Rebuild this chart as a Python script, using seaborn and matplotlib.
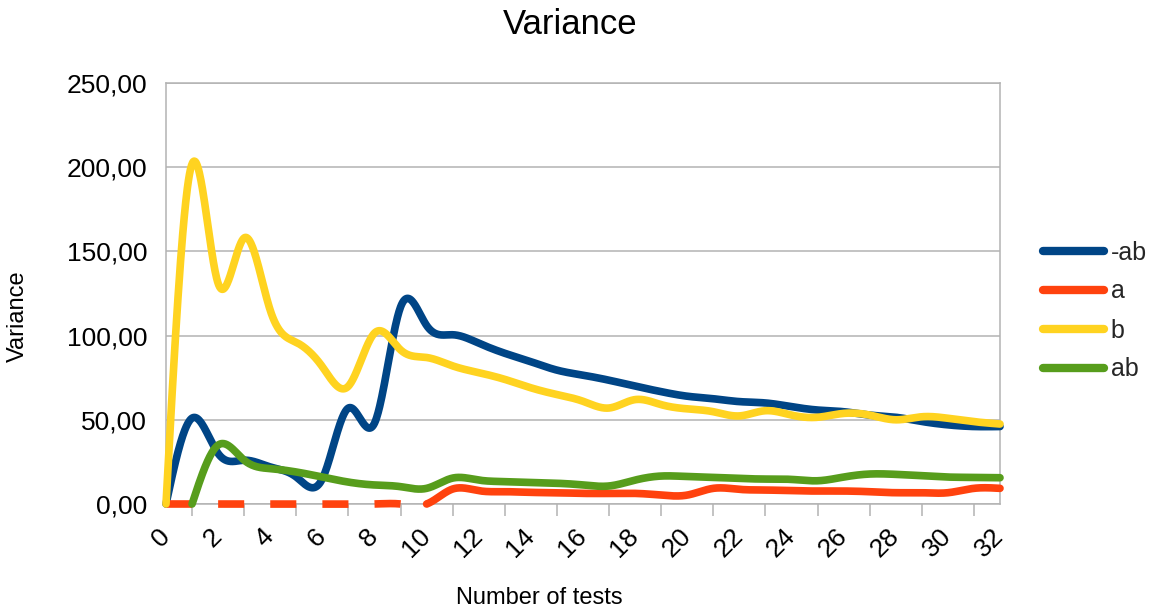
import numpy as np
import pandas as pd
import matplotlib
matplotlib.use("Agg")
import matplotlib.pyplot as plt
from matplotlib.lines import Line2D
from matplotlib.ticker import FuncFormatter, MultipleLocator
import seaborn as sns

# ---- data -------------------------------------------------------------
tests = list(range(0, 33))

var_neg_ab = [0, 51, 30, 26, 22, 16, 15, 57, 48, 117, 106, 100.5, 95.5, 89.5,
              84.5, 79.5, 76.5, 73.5, 70, 66.7, 64, 62.5, 60.8, 60, 57.8,
              55.8, 54.8, 52.8, 51.5, 49, 47, 46, 46]
var_a = [0, 0, 0, 0, 0, 0, 0, 0, 0, 0, 0, 8.9, 7.9, 7.3, 6.9, 6.7, 6.3, 6.3,
         6.3, 5.3, 5.3, 9.3, 8.7, 8.3, 7.9, 7.7, 7.7, 7.3, 6.7, 6.7, 6.7,
         9.3, 9.3]
var_b = [0, 202, 131, 158, 115, 96, 81.5, 70, 101.5, 91.5, 87, 82, 78, 74, 69,
         65, 61, 57, 62, 59, 56.5, 54.8, 52.3, 55.4, 52.8, 51.5, 53.8, 52.8,
         50, 51.8, 50.9, 48.9, 47.5]
var_ab = [np.nan, 0, 35, 26, 21, 19, 16, 13, 11.3, 10.3, 9.3, 15.4, 14.2,
          13.3, 12.7, 12.3, 11.3, 10.7, 14.2, 16.6, 16.3, 15.8, 15.2, 14.8,
          14.6, 13.8, 16, 17.8, 17.6, 16.8, 16, 15.8, 15.6]

series_names = ["-ab", "a", "b", "ab"]
series_values = [var_neg_ab, var_a, var_b, var_ab]
colors = ["#004586", "#ff420e", "#ffd320", "#579d1c"]
y_ticks = [0, 50, 100, 150, 200, 250]
x_tick_labels = list(range(0, 33, 2))


def natural_spline(x, y, n_per=50):
    """Smooth curve through the points with a natural cubic spline."""
    x = np.asarray(x, float)
    y = np.asarray(y, float)
    n = len(x)
    h = np.diff(x)
    A = np.zeros((n, n))
    r = np.zeros(n)
    A[0, 0] = A[-1, -1] = 1.0
    for i in range(1, n - 1):
        A[i, i - 1] = h[i - 1]
        A[i, i] = 2 * (h[i - 1] + h[i])
        A[i, i + 1] = h[i]
        r[i] = 3 * ((y[i + 1] - y[i]) / h[i] - (y[i] - y[i - 1]) / h[i - 1])
    c = np.linalg.solve(A, r)
    xs, ys = [], []
    for i in range(n - 1):
        b = (y[i + 1] - y[i]) / h[i] - h[i] * (2 * c[i] + c[i + 1]) / 3
        d = (c[i + 1] - c[i]) / (3 * h[i])
        t = np.linspace(0, h[i], n_per, endpoint=(i == n - 2))
        xs.append(x[i] + t)
        ys.append(y[i] + b * t + c[i] * t ** 2 + d * t ** 3)
    return np.concatenate(xs), np.concatenate(ys)


# ---- figure -----------------------------------------------------------
sns.set_theme(style="white")
plt.rcParams["font.family"] = ["Liberation Sans", "DejaVu Sans"]
plt.rcParams["lines.scale_dashes"] = False

W, H = 1162, 612
fig = plt.figure(figsize=(W / 100, H / 100), dpi=100)
ax = fig.add_axes([166 / W, 1 - 504 / H, (1000 - 166) / W, (504 - 83) / H])

ax.set_xlim(0, 32)
ax.set_ylim(0, 250)

# length of one x unit in points (dash period of the zero stretch)
unit_pt = (ax.transData.transform((1, 0))[0]
           - ax.transData.transform((0, 0))[0]) * 72 / fig.dpi

grid_col = "#b3b3b3"
lw = 5.5

for name, vals, col in zip(series_names, series_values, colors):
    xv = np.array(tests, float)
    yv = np.array(vals, float)
    keep = ~np.isnan(yv)
    sx, sy = natural_spline(xv[keep], yv[keep])
    if name == "a":
        # the zero stretch at the start is drawn dashed, the rest solid
        zero_end = xv[keep][np.nonzero(yv[keep])[0][0] - 1]
        m = sx <= zero_end
        sns.lineplot(x=sx[m], y=sy[m], color=col, lw=lw, ax=ax, sort=False,
                     zorder=3, clip_on=False,
                     linestyle=(0, (unit_pt, unit_pt)), dash_capstyle="butt")
        m2 = sx >= zero_end
        sns.lineplot(x=sx[m2], y=sy[m2], color=col, lw=lw, ax=ax, sort=False,
                     zorder=3, clip_on=False, solid_joinstyle="round")
    else:
        sns.lineplot(x=sx, y=sy, color=col, lw=lw, ax=ax, sort=False,
                     zorder=3, clip_on=False, solid_joinstyle="round")

# ---- axes styling -----------------------------------------------------
ax.set_yticks(y_ticks)
ax.yaxis.set_major_formatter(FuncFormatter(lambda v, p: f"{v:.2f}".replace(".", ",")))
ax.set_xticks(x_tick_labels)
ax.set_xticklabels([str(v) for v in x_tick_labels], rotation=45, ha="right",
                   va="center", rotation_mode="anchor")
ax.xaxis.set_minor_locator(MultipleLocator(1))
ax.grid(axis="y", color=grid_col, lw=1.1, zorder=0)
ax.grid(axis="x", visible=False)
for s in ax.spines.values():
    s.set_color(grid_col)
    s.set_linewidth(1.1)
ax.tick_params(axis="both", which="both", direction="out", length=8.5,
               width=1.1, color=grid_col, labelsize=19, labelcolor="#000000")
ax.tick_params(axis="y", pad=5)
ax.tick_params(axis="x", pad=12)
ax.tick_params(axis="x", which="minor", bottom=True, length=8.5)
ax.set_xlabel("")
ax.set_ylabel("")

fig.text(570 / W, 1 - 24 / H, "Variance", ha="center", va="center",
         fontsize=25, color="black")
fig.text(18 / W, 1 - 316 / H, "Variance", ha="center", va="center",
         rotation=90, fontsize=17, color="black")
fig.text(539 / W, 1 - 598 / H, "Number of tests", ha="center", va="center",
         fontsize=17, color="black")

handles = [Line2D([], [], color=c, lw=6) for c in colors]
fig.legend(handles, series_names, loc="center left", frameon=False,
           bbox_to_anchor=(1043 / W, 1 - 311 / H), fontsize=18,
           handlelength=2.42, handletextpad=0.28, labelspacing=0.6,
           borderpad=0, borderaxespad=0)

fig.savefig("out.png", dpi=100)
